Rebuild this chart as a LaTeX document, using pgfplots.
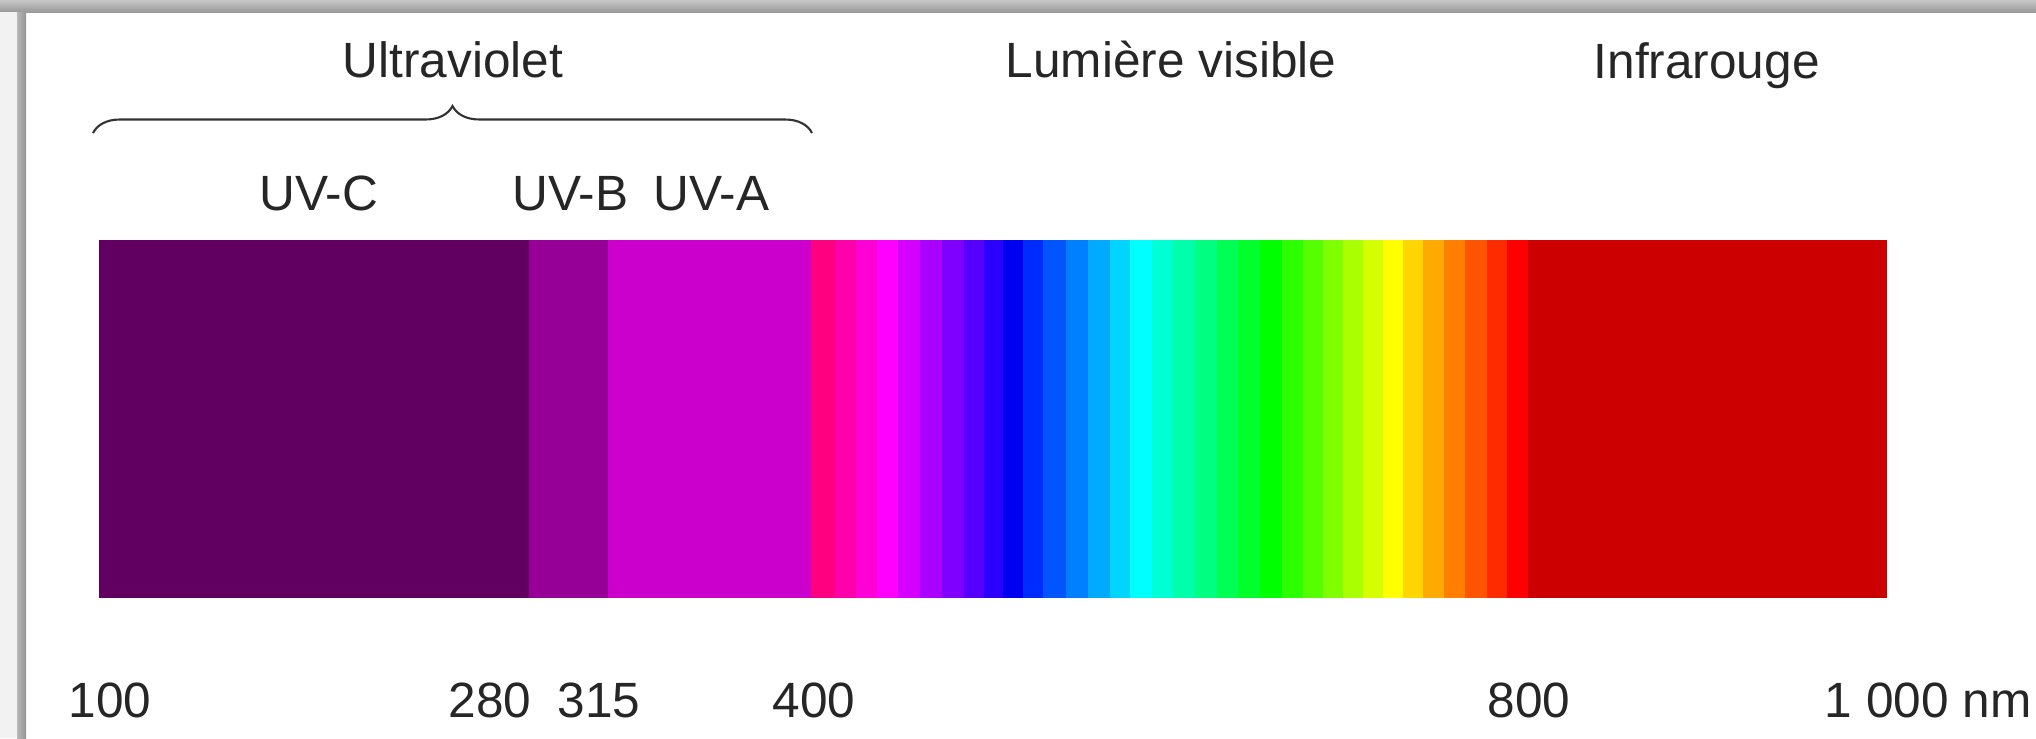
\documentclass[border=0pt]{standalone}
\usepackage{fontspec}
\setmainfont{Liberation Sans}
\usepackage{pgfplots}
\pgfplotsset{compat=1.18}
\usetikzlibrary{decorations.pathreplacing}

% UV and IR blocks
\definecolor{uvc}{HTML}{620062}
\definecolor{uvb}{HTML}{960096}
\definecolor{uva}{HTML}{CC00CC}
\definecolor{ir}{HTML}{CC0000}
% visible stripes, pink -> red
\definecolor{v01}{HTML}{FF0080}
\definecolor{v02}{HTML}{FF00AA}
\definecolor{v03}{HTML}{FF00D5}
\definecolor{v04}{HTML}{FF00FF}
\definecolor{v05}{HTML}{D500FF}
\definecolor{v06}{HTML}{AA00FF}
\definecolor{v07}{HTML}{8000FF}
\definecolor{v08}{HTML}{5500FF}
\definecolor{v09}{HTML}{2B00FF}
\definecolor{v10}{HTML}{0000F0}
\definecolor{v11}{HTML}{002BFF}
\definecolor{v12}{HTML}{0055FF}
\definecolor{v13}{HTML}{0080FF}
\definecolor{v14}{HTML}{00AAFF}
\definecolor{v15}{HTML}{00D5FF}
\definecolor{v16}{HTML}{00FFFF}
\definecolor{v17}{HTML}{00FFD5}
\definecolor{v18}{HTML}{00FFAA}
\definecolor{v19}{HTML}{00FF80}
\definecolor{v20}{HTML}{00FF55}
\definecolor{v21}{HTML}{00FF2B}
\definecolor{v22}{HTML}{00FF00}
\definecolor{v23}{HTML}{2BFF00}
\definecolor{v24}{HTML}{55FF00}
\definecolor{v25}{HTML}{80FF00}
\definecolor{v26}{HTML}{AAFF00}
\definecolor{v27}{HTML}{D5FF00}
\definecolor{v28}{HTML}{FFFF00}
\definecolor{v29}{HTML}{FFD500}
\definecolor{v30}{HTML}{FFAA00}
\definecolor{v31}{HTML}{FF8000}
\definecolor{v32}{HTML}{FF5500}
\definecolor{v33}{HTML}{FF2B00}
\definecolor{v34}{HTML}{FF0000}

% one band of the spectrum bar: x from, x to, colour
\newcommand{\band}[3]{\addplot[fill=#3, draw=#3, line width=0.2pt] coordinates {(#1,240) (#2,240) (#2,597) (#1,597)} --cycle;}

\tikzset{lbl/.style={anchor=base west, inner sep=0pt, text=black!85,
  font=\fontsize{14.1pt}{17pt}\selectfont}}

\begin{document}
\begin{tikzpicture}
\begin{axis}[
    scale only axis,
    width=20.36cm, height=7.38cm,
    xmin=0, xmax=2036,
    ymin=0, ymax=738,
    y dir=reverse,
    hide axis,
    clip=false,
    ]
    % screenshot frame
    \fill[white] (0,0) rectangle (2036,738);
    \shade[top color=black!22, bottom color=black!40] (0,0) rectangle (2036,12);
    \fill[black!5] (0,12) rectangle (17,738);
    \shade[left color=black!28, right color=black!42] (17,12) rectangle (26,738);

    % ultraviolet
    \band{99}{529}{uvc}
    \band{529}{608}{uvb}
    \band{608}{811}{uva}
    % visible
    \band{811}{835}{v01}
    \band{835}{856}{v02}
    \band{856}{877}{v03}
    \band{877}{898}{v04}
    \band{898}{920}{v05}
    \band{920}{942}{v06}
    \band{942}{964}{v07}
    \band{964}{984}{v08}
    \band{984}{1003}{v09}
    \band{1003}{1023}{v10}
    \band{1023}{1043}{v11}
    \band{1043}{1066}{v12}
    \band{1066}{1088}{v13}
    \band{1088}{1110}{v14}
    \band{1110}{1130}{v15}
    \band{1130}{1152}{v16}
    \band{1152}{1173}{v17}
    \band{1173}{1195}{v18}
    \band{1195}{1217}{v19}
    \band{1217}{1238}{v20}
    \band{1238}{1260}{v21}
    \band{1260}{1282}{v22}
    \band{1282}{1303}{v23}
    \band{1303}{1323}{v24}
    \band{1323}{1343}{v25}
    \band{1343}{1363}{v26}
    \band{1363}{1383}{v27}
    \band{1383}{1403}{v28}
    \band{1403}{1423}{v29}
    \band{1423}{1444}{v30}
    \band{1444}{1465}{v31}
    \band{1465}{1487}{v32}
    \band{1487}{1507}{v33}
    \band{1507}{1528}{v34}
    % infrared
    \band{1528}{1886}{ir}

    % brace over the UV range
    \draw[black!80, line width=0.6pt, decorate,
          decoration={brace, amplitude=0.27cm}] (93,133) -- (812,133);

    % top labels
    \node[lbl] at (342,77) {Ultraviolet};
    \node[lbl] at (1005,77) {Lumière visible};
    \node[lbl] at (1593,78) {Infrarouge};
    \node[lbl] at (259,210) {UV-C};
    \node[lbl] at (512,210) {UV-B};
    \node[lbl] at (653,210) {UV-A};

    % wavelength labels
    \node[lbl] at (68,717) {100};
    \node[lbl] at (448,717) {280};
    \node[lbl] at (557,717) {315};
    \node[lbl] at (772,717) {400};
    \node[lbl] at (1487,717) {800};
    \node[lbl] at (1824,717) {1 000 nm};
\end{axis}
\pgfresetboundingbox
\path (current axis.south west) rectangle (current axis.north east);
\end{tikzpicture}
\end{document}
